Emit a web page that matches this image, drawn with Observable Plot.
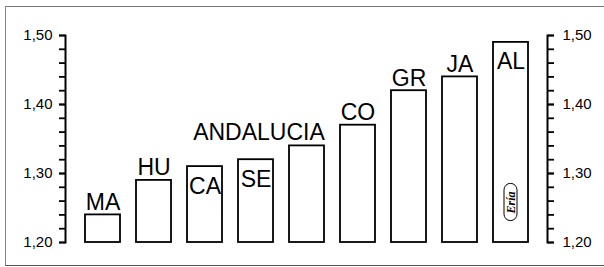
<!DOCTYPE html>
<html>
<head>
<meta charset="utf-8">
<script src="https://cdn.jsdelivr.net/npm/d3@7"></script>
<script src="https://cdn.jsdelivr.net/npm/@observablehq/plot@0.6"></script>
<style>
  html, body { margin: 0; padding: 0; background: #fff; }
  #wrap { position: relative; width: 604px; height: 267px; overflow: hidden; }
  #border { position: absolute; left: 5px; top: 6px; width: 600px; height: 258px;
            border-top: 1.5px solid #777; border-left: 1.5px solid #888; border-bottom: 1.5px solid #555; }
  #chart { position: absolute; left: 0; top: 0; }
</style>
</head>
<body>
<div id="wrap"><div id="border"></div><div id="chart"></div></div>
<script>
const categories = ["MA", "HU", "CA", "SE", "AND", "CO", "GR", "JA", "AL"];
const values = [1.24, 1.29, 1.31, 1.32, 1.34, 1.37, 1.42, 1.44, 1.49];
const labels = ["MA", "HU", "CA", "SE", "ANDALUCIA", "CO", "GR", "JA", "AL"];
const labelInside = [false, false, true, true, false, false, false, false, true];
const yTicks = [1.20, 1.30, 1.40, 1.50];
const yTickLabels = ["1,20", "1,30", "1,40", "1,50"];
const minorTicks = [1.20, 1.22, 1.24, 1.26, 1.28, 1.30, 1.32, 1.34, 1.36, 1.38, 1.40, 1.42, 1.44, 1.46, 1.48, 1.50];
const logo = [{x: "AL", y1: 1.231, y2: 1.285, y: 1.258, text: "Ería"}];

const data = categories.map((c, i) => ({cat: c, value: values[i], label: labels[i], inside: labelInside[i]}));
const fmt = d => yTickLabels[yTicks.findIndex(t => Math.abs(t - d) < 1e-9)];

const font = "'Liberation Sans', Arial, Helvetica, sans-serif";
const plot = Plot.plot({
  width: 604, height: 267,
  marginTop: 35, marginBottom: 25, marginLeft: 65, marginRight: 57,
  x: {domain: categories, paddingInner: 0.319, paddingOuter: 0.348, axis: null},
  y: {domain: [1.2, 1.5], axis: null},
  style: {fontFamily: font, fontSize: "15px", background: "transparent", color: "black", overflow: "visible"},
  marks: [
    Plot.frame({anchor: "left", strokeWidth: 2}),
    Plot.frame({anchor: "right", strokeWidth: 2}),
    Plot.axisY(minorTicks, {anchor: "left", tickSize: 6, tickFormat: () => "", strokeWidth: 1.8}),
    Plot.axisY(yTicks, {anchor: "left", tickSize: 6, tickPadding: 7, tickFormat: fmt, fontSize: 15, strokeWidth: 1.8}),
    Plot.axisY(minorTicks, {anchor: "right", tickSize: 6, tickFormat: () => "", strokeWidth: 1.8}),
    Plot.axisY(yTicks, {anchor: "right", tickSize: 6, tickPadding: 9, tickFormat: fmt, fontSize: 15, strokeWidth: 1.8}),
    Plot.barY(data, {x: "cat", y1: 1.2, y2: "value", fill: "white", stroke: "black", strokeWidth: 1.8}),
    Plot.text(data.filter(d => !d.inside && d.cat !== "AND"), {x: "cat", y: "value", text: "label", dy: -5, lineAnchor: "bottom", fontSize: 23, fill: "black"}),
    Plot.text(data.filter(d => d.cat === "AND"), {x: "cat", y: "value", text: "label", dx: -48, dy: -6, lineAnchor: "bottom", fontSize: 23, fill: "black"}),
    Plot.text(data.filter(d => d.inside), {x: "cat", y: "value", text: "label", dy: 27, lineAnchor: "bottom", fontSize: 23, fill: "black"}),
    Plot.barY(logo, {x: "x", y1: "y1", y2: "y2", insetLeft: 11, insetRight: 11, rx: 6.5, fill: "white", stroke: "black", strokeWidth: 1}),
    Plot.text(logo, {x: "x", y: "y", text: "text", rotate: -90, fontFamily: "'Liberation Serif', 'DejaVu Serif', serif", fontStyle: "italic", fontWeight: "bold", fontSize: 12, fill: "black"})
  ]
});
document.getElementById("chart").appendChild(plot);
</script>
</body>
</html>
